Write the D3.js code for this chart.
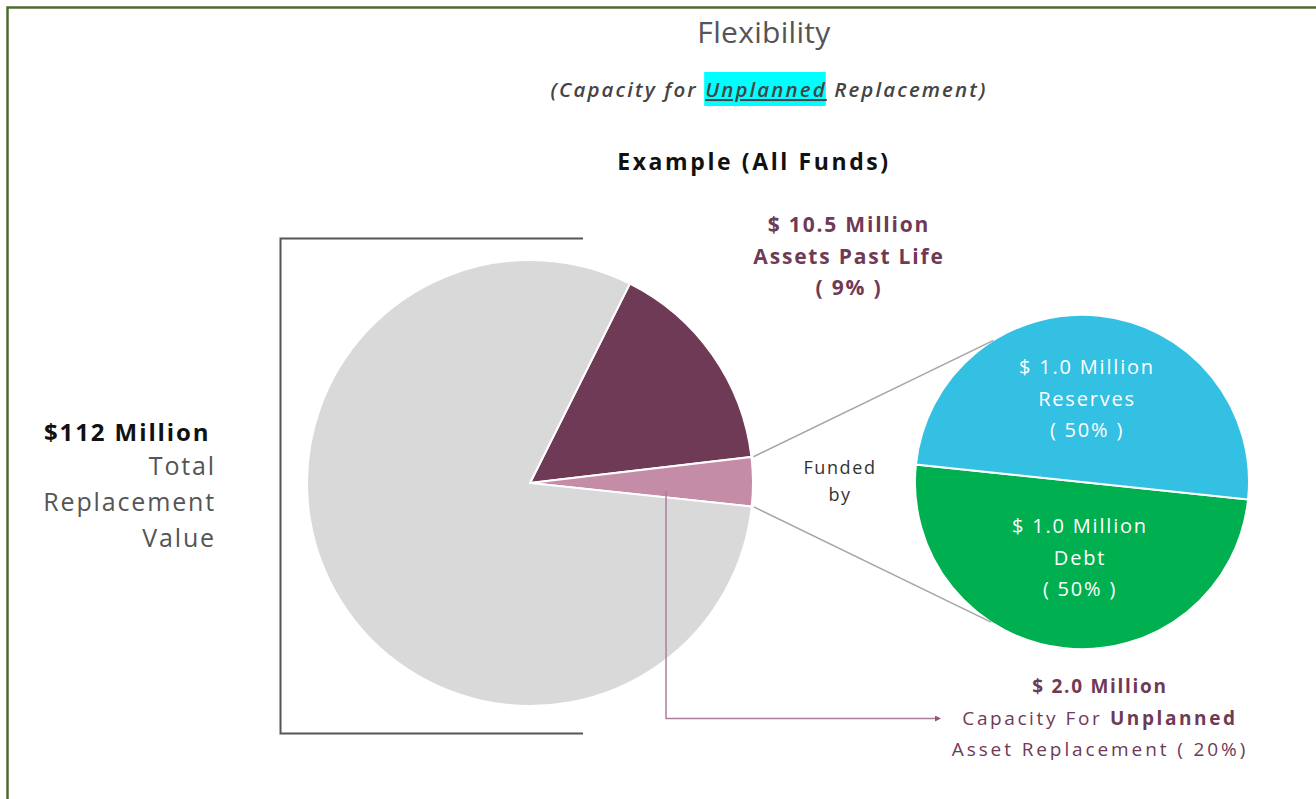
<!DOCTYPE html>
<html>
<head>
<meta charset="utf-8">
<script src="https://cdn.jsdelivr.net/npm/d3@7"></script>
<style>
  body { margin: 0; background: #fff; }
  svg { display: block; font-family: "Open Sans", Lato, sans-serif; }
</style>
</head>
<body>
<div id="chart-container"></div>
<script>
/* Flexibility pie-of-pie chart */

// main pie: assets past life, unplanned capacity, rest of the portfolio
const mainKeys = ["Assets Past Life", "Unplanned Capacity", "Other Assets"];
const mainValues = [15.75, 3.55, 80.7];
const mainColors = ["#6f3a56", "#c58ca8", "#d9d9d9"];

// secondary pie: how the capacity is funded
const fundKeys = ["Debt", "Reserves"];
const fundValues = [50, 50];
const fundColors = ["#00af4f", "#33c0e3"];
const fundText = [
  ["$ 1.0 Million", "Debt", "( 50% )"],
  ["$ 1.0 Million", "Reserves", "( 50% )"],
];

const pastLifeText = ["$ 10.5 Million", "Assets Past Life", "( 9% )"];
const totalText = ["Total", "Replacement", "Value"];

function create_pies() {
  let width = 1316,
    height = 799;

  const svg = d3
    .select("#chart-container")
    .append("svg")
    .attr("width", width)
    .attr("height", height)
    .attr("viewBox", [0, 0, width, height]);

  // frame (only top and left edges show)
  svg
    .append("path")
    .attr("d", `M7.5,${height}V7.5H${width}`)
    .attr("fill", "none")
    .attr("stroke", "#4f6b32")
    .attr("stroke-width", 2.5);

  // titles
  svg
    .append("text")
    .attr("x", 764)
    .attr("y", 43)
    .attr("text-anchor", "middle")
    .style("font-size", "30px")
    .style("letter-spacing", "0.3px")
    .style("fill", "#555")
    .text("Flexibility");

  const sub = svg
    .append("text")
    .attr("x", 769)
    .attr("y", 97)
    .attr("text-anchor", "middle")
    .style("font-size", "20.5px")
    .style("font-style", "italic")
    .style("font-weight", 600)
    .style("letter-spacing", "2.1px")
    .style("fill", "#444");
  sub.append("tspan").text("(Capacity for ");
  const hl = sub
    .append("tspan")
    .style("text-decoration", "underline")
    .text("Unplanned");
  sub.append("tspan").text(" Replacement)");
  const b = hl.node().getBBox();
  svg
    .insert("rect", "text:nth-of-type(2)")
    .attr("x", b.x - 1)
    .attr("y", 72)
    .attr("width", b.width)
    .attr("height", 34)
    .attr("fill", "#00ffff");

  svg
    .append("text")
    .attr("x", 754)
    .attr("y", 170)
    .attr("text-anchor", "middle")
    .style("font-size", "23px")
    .style("font-weight", "bold")
    .style("letter-spacing", "2.6px")
    .style("fill", "#111")
    .text("Example (All Funds)");

  // bracket round the main pie
  svg
    .append("path")
    .attr("d", "M583,238.5H280.5V733.5H583")
    .attr("fill", "none")
    .attr("stroke", "#555")
    .attr("stroke-width", 2);

  // main pie
  let cx = 530,
    cy = 483,
    r = 223;
  let pie = d3
    .pie()
    .sort(null)
    .startAngle((26.6 * Math.PI) / 180)
    .endAngle((26.6 * Math.PI) / 180 + 2 * Math.PI);
  let arcs = pie(mainValues);
  let arc = d3.arc().innerRadius(0).outerRadius(r);

  svg
    .append("g")
    .attr("transform", `translate(${cx},${cy})`)
    .selectAll("path")
    .data(arcs)
    .join("path")
    .attr("d", arc)
    .attr("fill", (d, i) => mainColors[i])
    .attr("stroke", "#fff")
    .attr("stroke-width", 2);

  // secondary pie
  let fx = 1082,
    fy = 482,
    fr = 167;
  let fpie = d3
    .pie()
    .sort(null)
    .startAngle((96 * Math.PI) / 180)
    .endAngle((96 * Math.PI) / 180 + 2 * Math.PI);
  let farcs = fpie(fundValues);
  let farc = d3.arc().innerRadius(0).outerRadius(fr);

  const fg = svg.append("g").attr("transform", `translate(${fx},${fy})`);
  fg.selectAll("path")
    .data(farcs)
    .join("path")
    .attr("d", farc)
    .attr("fill", (d, i) => fundColors[i])
    .attr("stroke", "#fff")
    .attr("stroke-width", 2);

  let labelPos = [
    [-2, 51],
    [5, -108],
  ];
  fundText.forEach((lines, i) => {
    fg.append("g")
      .selectAll("text")
      .data(lines)
      .join("text")
      .attr("x", labelPos[i][0])
      .attr("y", (d, j) => labelPos[i][1] + j * 31.5)
      .attr("text-anchor", "middle")
      .style("font-size", "20px")
      .style("letter-spacing", "1.8px")
      .style("fill", "#fff")
      .text((d) => d);
  });

  // connector lines from the pink slice to the funding pie
  const pt = (x, y, rad, a) => [x + rad * Math.sin(a), y - rad * Math.cos(a)];
  let pink = arcs[1];
  let deg = Math.PI / 180;
  let links = [
    [pt(cx, cy, r + 2, pink.startAngle), pt(fx, fy, fr, 328 * deg)],
    [pt(cx, cy, r + 2, pink.endAngle), pt(fx, fy, fr, 213 * deg)],
  ];
  svg
    .append("g")
    .selectAll("line")
    .data(links)
    .join("line")
    .attr("x1", (d) => d[0][0])
    .attr("y1", (d) => d[0][1])
    .attr("x2", (d) => d[1][0])
    .attr("y2", (d) => d[1][1])
    .attr("stroke", "#a6a6a6")
    .attr("stroke-width", 1.5);

  svg
    .append("g")
    .selectAll("text")
    .data(["Funded", "by"])
    .join("text")
    .attr("x", 840)
    .attr("y", (d, i) => 474 + i * 27)
    .attr("text-anchor", "middle")
    .style("font-size", "18px")
    .style("letter-spacing", "1.6px")
    .style("fill", "#333")
    .text((d) => d);

  // assets past life label
  svg
    .append("g")
    .selectAll("text")
    .data(pastLifeText)
    .join("text")
    .attr("x", 849)
    .attr("y", (d, i) => 232 + i * 31.5)
    .attr("text-anchor", "middle")
    .style("font-size", "21px")
    .style("font-weight", "bold")
    .style("letter-spacing", "1.8px")
    .style("fill", "#6f3a56")
    .text((d) => d);

  // total replacement value
  svg
    .append("text")
    .attr("x", 44)
    .attr("y", 441)
    .style("font-size", "24px")
    .style("font-weight", "bold")
    .style("letter-spacing", "1.9px")
    .style("fill", "#111")
    .text("$112 Million");

  svg
    .append("g")
    .selectAll("text")
    .data(totalText)
    .join("text")
    .attr("x", 216)
    .attr("y", (d, i) => 475 + i * 36)
    .attr("text-anchor", "end")
    .style("font-size", "25px")
    .style("letter-spacing", "1.85px")
    .style("fill", "#555")
    .text((d) => d);

  // arrow from the pink slice to its label
  svg
    .append("defs")
    .append("marker")
    .attr("id", "head")
    .attr("viewBox", "0 0 10 10")
    .attr("refX", 5)
    .attr("refY", 5)
    .attr("markerWidth", 4)
    .attr("markerHeight", 4)
    .attr("orient", "auto")
    .append("path")
    .attr("d", "M0,0L10,5L0,10Z")
    .attr("fill", "#8f5a77");

  let ax = pt(cx, cy, r * 0.61, (pink.startAngle + pink.endAngle) / 2)[0];
  svg
    .append("path")
    .attr("d", `M${ax},${cy + 8}V718.5H938`)
    .attr("fill", "none")
    .attr("stroke", "#a9809a")
    .attr("stroke-width", 1.5)
    .attr("marker-end", "url(#head)");

  const cap = svg
    .append("g")
    .attr("text-anchor", "middle")
    .style("font-size", "19px")
    .style("fill", "#6f3a56");
  cap
    .append("text")
    .attr("x", 1100)
    .attr("y", 693)
    .style("font-weight", "bold")
    .style("letter-spacing", "1.7px")
    .text("$ 2.0 Million");
  const l2 = cap
    .append("text")
    .attr("x", 1100)
    .attr("y", 725)
    .style("letter-spacing", "2.6px");
  l2.append("tspan").text("Capacity For ");
  l2.append("tspan").style("font-weight", "bold").text("Unplanned");
  cap
    .append("text")
    .attr("x", 1100)
    .attr("y", 756)
    .style("letter-spacing", "2.9px")
    .text("Asset Replacement ( 20%)");
}

create_pies();
</script>
</body>
</html>
